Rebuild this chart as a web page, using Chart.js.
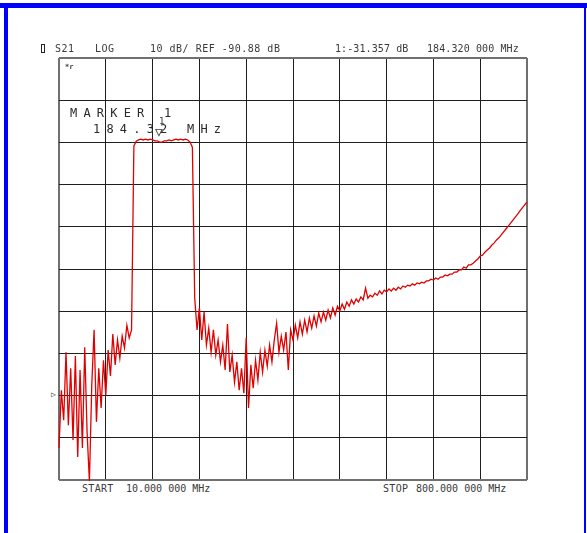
<!DOCTYPE html>
<html>
<head>
<meta charset="utf-8">
<title>S21 LOG</title>
<script src="https://cdn.jsdelivr.net/npm/chart.js@4.4.1/dist/chart.umd.min.js"></script>
<style>
  html, body { margin: 0; padding: 0; background: #fff; }
  body { width: 587px; height: 533px; position: relative; overflow: hidden; }
  .frame { position: absolute; background: #0000ff; }
  #plot { position: absolute; left: 58px; top: 57px; }
  .t { position: absolute; font-family: "DejaVu Sans Mono", monospace; color: #3a3a3a; white-space: pre; line-height: 1; }
  .hdr { font-size: 10px; }
  .mk { font-size: 12px; letter-spacing: 6.2px; color: #2a2a2a; }
</style>
</head>
<body>
<div class="frame" style="left:0;top:3px;width:587px;height:5px"></div>
<div class="frame" style="left:4px;top:3px;width:4px;height:530px"></div>
<div class="frame" style="left:584px;top:3px;width:2px;height:530px"></div>

<canvas id="plot" width="470" height="424"></canvas>

<!-- header line -->
<div style="position:absolute;left:41px;top:44px;width:2px;height:7px;border:1px solid #222"></div>
<span class="t hdr" style="left:55px;top:44px;letter-spacing:0.5px">S21</span>
<span class="t hdr" style="left:95px;top:44px;letter-spacing:0.5px">LOG</span>
<span class="t hdr" style="left:150px;top:44px;letter-spacing:0.5px">10 dB/ REF -90.88 dB</span>
<span class="t hdr" style="left:335px;top:44px;letter-spacing:0.1px">1:-31.357 dB</span>
<span class="t hdr" style="left:427px;top:44px;letter-spacing:0.1px">184.320 000 MHz</span>
<span class="t" style="left:65px;top:64px;font-size:7px;font-weight:bold">*r</span>

<!-- marker readout -->
<span class="t mk" style="left:70px;top:107px">MARKER 1</span>
<span class="t mk" style="left:93px;top:123px">184.32 MHz</span>
<span class="t" style="left:159px;top:117px;font-size:9px">1</span>
<span class="t" style="left:155px;top:125px;font-size:13px">▽</span>

<!-- reference position -->
<span class="t" style="left:51px;top:391px;font-size:8px">▷</span>

<!-- footer -->
<span class="t hdr" style="left:82px;top:484px;letter-spacing:0.3px">START</span>
<span class="t hdr" style="left:126px;top:484px">10.000 000 MHz</span>
<span class="t hdr" style="left:383px;top:484px;letter-spacing:0.3px">STOP</span>
<span class="t hdr" style="left:416px;top:484px">800.000 000 MHz</span>

<script>
// Network analyzer S21 sweep, 201 points, 10 MHz .. 800 MHz

const sweepStartMHz = 10;
const sweepStopMHz = 800;

// trace values in dB, one per sweep point (20 per division)
const s21dB = [
  -103.3, -89.6, -96.7, -80.6, -97.9, -84.4, -101.4, -81.5, -105.4, -84.8,
  -103.3, -79.4, -99.5, -111.3, -88.4, -75.3, -97.1, -84.4, -93.8, -82.5,
  -90.8, -80.1, -86.2, -76.3, -83.6, -77.7, -82.0, -76.8, -79.6, -74.2,
  -77.2, -75.3, -31.7, -30.6, -30.3, -30.1, -30.3, -30.1, -30.3, -30.1,
  -30.3, -30.5, -30.5, -30.8, -30.8, -30.5, -30.5, -30.3, -30.5, -30.3,
  -30.1, -30.3, -30.1, -30.3, -30.1, -30.3, -30.8, -32.0, -67.8, -75.3,
  -70.1, -77.7, -71.1, -78.9, -74.9, -80.6, -75.3, -81.3, -77.7, -82.9,
  -78.9, -84.8, -73.9, -85.3, -81.3, -87.7, -82.9, -89.6, -84.4, -90.3,
  -77.2, -93.8, -83.6, -89.1, -82.5, -87.2, -80.6, -85.3, -80.1, -83.9,
  -78.9, -82.9, -77.7, -73.7, -80.6, -76.8, -80.1, -75.8, -84.8, -75.3,
  -77.7, -74.2, -77.2, -73.4, -76.3, -73.0, -75.8, -72.5, -74.9, -72.0,
  -74.4, -71.3, -73.4, -71.1, -73.0, -70.6, -72.5, -70.1, -71.8, -69.7,
  -70.8, -69.2, -70.4, -68.7, -69.7, -68.2, -69.2, -68.0, -68.7, -67.5,
  -68.2, -65.4, -67.8, -67.1, -67.5, -66.6, -67.1, -66.1, -66.8, -65.9,
  -66.3, -65.6, -66.1, -65.4, -65.9, -65.2, -65.6, -64.9, -65.2, -64.7,
  -64.9, -64.4, -64.7, -64.2, -64.4, -64.0, -64.2, -63.7, -63.7, -63.3,
  -63.5, -63.0, -63.3, -62.8, -62.8, -62.3, -62.5, -62.1, -62.1, -61.6,
  -61.6, -61.1, -61.1, -60.4, -60.7, -59.9, -59.9, -59.5, -59.0, -58.5,
  -57.8, -57.6, -56.9, -56.4, -55.9, -55.2, -54.7, -54.0, -53.5, -52.8,
  -52.1, -51.4, -50.7, -50.0, -49.3, -48.6, -47.9, -47.1, -46.4, -45.7,
  -45.0
];

// graticule: 10 divisions each way (79 MHz/div, 10 dB/div)
const xGridMHz = [10, 89, 168, 247, 326, 405, 484, 563, 642, 721, 800];
const yGridDb = [-110.88, -100.88, -90.88, -80.88, -70.88, -60.88, -50.88, -40.88, -30.88, -20.88, -10.88];

// --- build points from the sweep ---

const stepMHz = (sweepStopMHz - sweepStartMHz) / (s21dB.length - 1);
const tracePoints = s21dB.map(function (v, i) {
  return { x: sweepStartMHz + i * stepMHz, y: v };
});

function gridColor(ctx) {
  const last = ctx.scale.ticks.length - 1;
  return ctx.index === 0 || ctx.index === last ? "#707070" : "#1e1e1e";
}

function gridWidth(ctx) {
  const last = ctx.scale.ticks.length - 1;
  return ctx.index === 0 || ctx.index === last ? 2 : 1;
}

new Chart(document.getElementById("plot"), {
  type: "line",
  data: {
    datasets: [
      {
        data: tracePoints,
        borderColor: "#e00000",
        borderWidth: 1.3,
        pointRadius: 0,
        tension: 0,
        clip: false,
      },
    ],
  },
  options: {
    responsive: false,
    animation: false,
    layout: { padding: 1 },
    plugins: { legend: { display: false }, tooltip: { enabled: false } },
    scales: {
      x: {
        type: "linear",
        min: sweepStartMHz,
        max: sweepStopMHz,
        afterBuildTicks: function (axis) {
          axis.ticks = xGridMHz.map(function (v) { return { value: v }; });
        },
        ticks: { display: false },
        border: { display: false },
        grid: { color: gridColor, lineWidth: gridWidth, drawTicks: false },
      },
      y: {
        type: "linear",
        min: yGridDb[0],
        max: yGridDb[yGridDb.length - 1],
        afterBuildTicks: function (axis) {
          axis.ticks = yGridDb.map(function (v) { return { value: v }; });
        },
        ticks: { display: false },
        border: { display: false },
        grid: { color: gridColor, lineWidth: gridWidth, drawTicks: false },
      },
    },
  },
});
</script>
</body>
</html>
